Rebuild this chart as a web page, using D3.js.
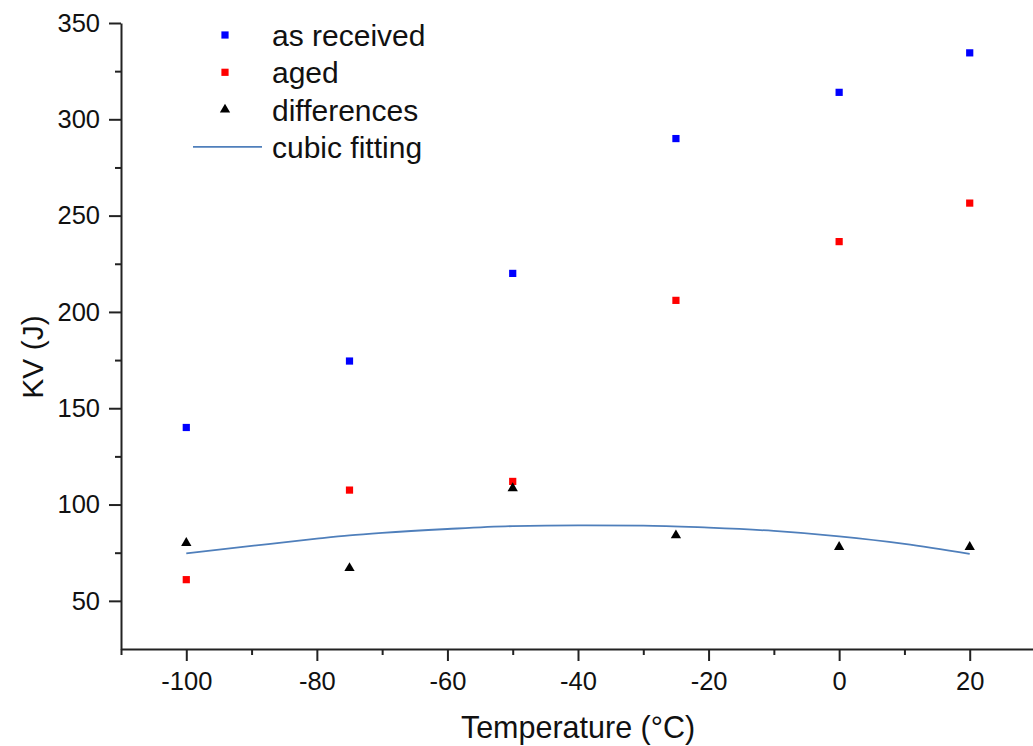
<!DOCTYPE html>
<html>
<head>
<meta charset="utf-8">
<script src="https://cdn.jsdelivr.net/npm/d3@7"></script>
<style>
  body { margin: 0; background: #fff; }
  svg { display: block; font-family: "Liberation Sans", Arial, sans-serif; }
</style>
</head>
<body>
<svg id="root" width="1033" height="746"></svg>
<script>
// temperatures of the tests (°C)
const temps = [-100, -75, -50, -25, 0, 20];
const asReceived = [140, 174.5, 220, 290, 314, 334.5];
const aged = [61, 107.5, 112, 206, 236.5, 256.5];
const differences = [80, 67, 108.5, 84, 78, 78];

// cubic fitting curve
const fitTemps = [-100, -90, -80, -75, -70, -60, -50, -40, -30, -20, -10, 0, 10, 20];
const fitValues = [74.6, 78.5, 82.3, 84, 85.3, 87.3, 88.8, 89.2, 89.1, 88, 86.3, 83.5, 79.6, 74.4];

const xMajor = [-100, -80, -60, -40, -20, 0, 20];
const xMinor = [-110, -90, -70, -50, -30, -10, 10];
const yMajor = [50, 100, 150, 200, 250, 300, 350];
const yMinor = [75, 125, 175, 225, 275, 325];

const legendItems = ["as received", "aged", "differences", "cubic fitting"];

const svg = d3.select("#root");

const margin = { top: 23, left: 121, bottom: 97, right: -2 };
const dimensions = { width: 1033, height: 746 };

const x = d3.scaleLinear()
    .domain([-110, 30])
    .range([margin.left, dimensions.width - margin.right]);
const y = d3.scaleLinear()
    .domain([25, 350])
    .range([dimensions.height - margin.bottom, margin.top]);

const axisColor = "#222";
const plain = (d) => String(d); // keep the hyphen minus of the original

// x axis
const xAxis = d3.axisBottom(x).tickValues(xMajor).tickFormat(plain)
    .tickSize(12).tickPadding(11).tickSizeOuter(0);
svg.append("g")
    .attr("transform", `translate(0, ${y(25)})`)
    .call(xAxis)
    .call((g) => g.select(".domain").attr("stroke", axisColor).attr("stroke-width", 2))
    .call((g) => g.selectAll(".tick line").attr("stroke", axisColor).attr("stroke-width", 2))
    .call((g) => g.selectAll("text").attr("font-size", 25.5).attr("fill", "#111").attr("font-family", "Liberation Sans, Arial"));

svg.append("g")
    .attr("transform", `translate(0, ${y(25)})`)
    .call(d3.axisBottom(x).tickValues(xMinor).tickSize(6).tickFormat("").tickSizeOuter(0))
    .call((g) => g.select(".domain").remove())
    .call((g) => g.selectAll(".tick line").attr("stroke", axisColor).attr("stroke-width", 2));

// y axis
const yAxis = d3.axisLeft(y).tickValues(yMajor).tickFormat(plain)
    .tickSize(12).tickPadding(9).tickSizeOuter(0);
svg.append("g")
    .attr("transform", `translate(${x(-110)}, 0)`)
    .call(yAxis)
    .call((g) => g.select(".domain").attr("stroke", axisColor).attr("stroke-width", 2))
    .call((g) => g.selectAll(".tick line").attr("stroke", axisColor).attr("stroke-width", 2))
    .call((g) => g.selectAll("text").attr("font-size", 25.5).attr("fill", "#111").attr("font-family", "Liberation Sans, Arial"));

svg.append("g")
    .attr("transform", `translate(${x(-110)}, 0)`)
    .call(d3.axisLeft(y).tickValues(yMinor).tickSize(6).tickFormat("").tickSizeOuter(0))
    .call((g) => g.select(".domain").remove())
    .call((g) => g.selectAll(".tick line").attr("stroke", axisColor).attr("stroke-width", 2));

// axis titles
svg.append("text")
    .attr("x", (x(-110) + x(30)) / 2)
    .attr("y", 738)
    .attr("text-anchor", "middle")
    .attr("font-size", 30.5)
    .attr("fill", "#111")
    .text("Temperature (°C)");

svg.append("text")
    .attr("transform", "translate(43, 357) rotate(-90)")
    .attr("text-anchor", "middle")
    .attr("font-size", 30)
    .attr("fill", "#111")
    .text("KV (J)");

// fitted curve
const line = d3.line()
    .x((d, i) => x(fitTemps[i]))
    .y((d) => y(d))
    .curve(d3.curveMonotoneX);

svg.append("path")
    .datum(fitValues)
    .attr("d", line)
    .attr("fill", "none")
    .attr("stroke", "#4f7fbb")
    .attr("stroke-width", 1.8);

const square = d3.symbol().type(d3.symbolSquare).size(52);
const triangle = d3.symbol().type(d3.symbolTriangle).size(46);

svg.append("g")
    .selectAll("path")
    .data(asReceived)
    .join("path")
    .attr("d", square)
    .attr("transform", (d, i) => `translate(${x(temps[i])}, ${y(d)})`)
    .attr("fill", "#0000ff");

svg.append("g")
    .selectAll("path")
    .data(aged)
    .join("path")
    .attr("d", square)
    .attr("transform", (d, i) => `translate(${x(temps[i])}, ${y(d)})`)
    .attr("fill", "#ff0000");

svg.append("g")
    .selectAll("path")
    .data(differences)
    .join("path")
    .attr("d", triangle)
    .attr("transform", (d, i) => `translate(${x(temps[i])}, ${y(d)})`)
    .attr("fill", "#000");

// legend
const legend = svg.append("g").attr("transform", "translate(225, 35)");
const rowGap = 37.3;

legendItems.forEach((label, i) => {
    const row = legend.append("g").attr("transform", `translate(0, ${i * rowGap})`);
    if (i == 0) row.append("path").attr("d", square).attr("fill", "#0000ff");
    if (i == 1) row.append("path").attr("d", square).attr("fill", "#ff0000");
    if (i == 2) row.append("path").attr("d", triangle).attr("fill", "#000");
    if (i == 3) {
        row.append("line")
            .attr("x1", -32).attr("x2", 37)
            .attr("stroke", "#4f7fbb").attr("stroke-width", 1.8);
    }
    row.append("text")
        .attr("x", 47)
        .attr("y", 11)
        .attr("font-size", 30)
        .attr("fill", "#111")
        .text(label);
});
</script>
</body>
</html>
